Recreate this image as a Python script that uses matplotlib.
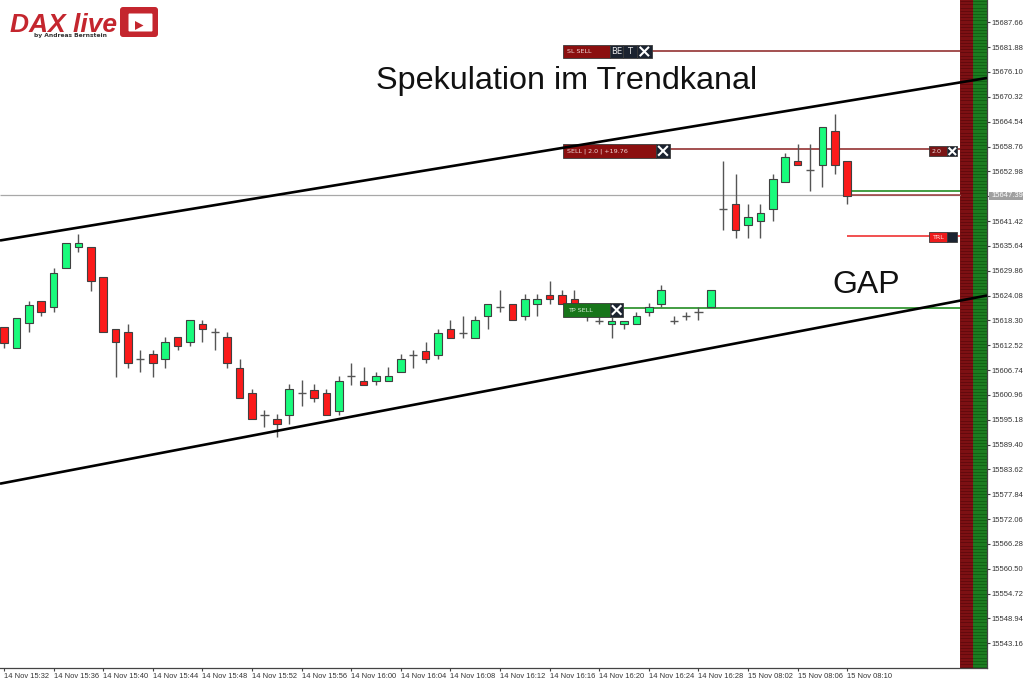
import numpy as np
import matplotlib
matplotlib.use("Agg")
import matplotlib.pyplot as plt
from matplotlib.patches import Rectangle, FancyBboxPatch, Polygon

# candles, one minute each (gap after the last 16:29 candle)
opens = [15616.8, 15611.8, 15617.8, 15622.8, 15621.4, 15630.4, 15635.3, 15635.3, 15628.4, 15616.3,
         15615.5, 15609.3, 15610.4, 15609.3, 15614.4, 15613.3, 15617.4, 15615.5, 15614.4, 15607.3,
         15601.3, 15596.3, 15595.4, 15596.3, 15601.4, 15602.2, 15601.3, 15597.3, 15605.3, 15604.3,
         15604.3, 15604.3, 15606.3, 15610.3, 15611.2, 15610.3, 15616.3, 15615.4, 15614.3, 15619.4,
         15621.4, 15622.2, 15619.4, 15622.2, 15624.2, 15624.2, 15623.3, 15621.2, 15618.2, 15617.4,
         15617.4, 15617.4, 15620.3, 15622.2, 15618.2, 15619.4, 15620.3, 15621.3, 15644.3, 15645.3,
         15640.4, 15641.4, 15644.3, 15650.4, 15655.3, 15653.3, 15654.4, 15662.3, 15655.3]
highs = [15616.8, 15618.8, 15622.9, 15622.8, 15630.4, 15636.3, 15638.4, 15635.3, 15628.4, 15616.3,
         15617.5, 15611.4, 15611.4, 15614.5, 15614.4, 15618.3, 15618.4, 15616.5, 15615.5, 15609.3,
         15602.4, 15597.5, 15596.4, 15603.4, 15604.4, 15603.4, 15602.3, 15605.3, 15608.4, 15607.4,
         15606.3, 15607.4, 15610.4, 15611.4, 15613.2, 15616.3, 15618.3, 15619.4, 15619.4, 15622.2,
         15625.4, 15622.2, 15624.4, 15624.4, 15627.4, 15625.4, 15625.4, 15621.9, 15619.1, 15619.1,
         15618.2, 15620.3, 15622.3, 15626.5, 15619.3, 15620.3, 15621.3, 15625.3, 15655.3, 15652.4,
         15645.4, 15645.4, 15652.4, 15657.3, 15659.4, 15659.4, 15663.4, 15666.3, 15655.3]
lows = [15611.8, 15611.8, 15615.7, 15619.3, 15620.3, 15630.4, 15634.3, 15625.2, 15615.5, 15605.2,
        15607.3, 15606.3, 15605.2, 15607.3, 15611.3, 15612.4, 15613.2, 15611.3, 15607.3, 15600.3,
        15595.4, 15593.4, 15591.2, 15594.3, 15598.4, 15599.3, 15596.3, 15596.3, 15603.3, 15603.3,
        15603.3, 15604.3, 15606.3, 15607.3, 15608.3, 15609.3, 15614.3, 15614.3, 15614.3, 15616.3,
        15620.3, 15618.3, 15618.3, 15619.4, 15622.2, 15622.2, 15621.3, 15618.2, 15617.4, 15614.3,
        15616.2, 15617.4, 15619.4, 15621.3, 15617.4, 15618.3, 15618.3, 15621.3, 15639.4, 15637.4,
        15637.4, 15637.4, 15641.5, 15650.4, 15654.4, 15648.4, 15649.3, 15652.4, 15645.3]
closes = [15613.0, 15618.8, 15621.9, 15620.3, 15629.3, 15636.3, 15636.3, 15627.4, 15615.5, 15613.3,
          15608.4, 15609.3, 15608.4, 15613.3, 15612.4, 15618.3, 15616.3, 15615.5, 15608.4, 15600.3,
          15595.4, 15596.3, 15594.3, 15602.3, 15601.4, 15600.3, 15596.3, 15604.3, 15605.3, 15603.3,
          15605.3, 15605.3, 15609.3, 15610.3, 15609.3, 15615.3, 15614.3, 15615.4, 15618.3, 15622.2,
          15621.4, 15618.3, 15623.3, 15623.3, 15623.3, 15622.2, 15621.3, 15619.9, 15618.2, 15618.2,
          15618.2, 15619.4, 15621.3, 15625.4, 15618.2, 15619.4, 15620.3, 15625.3, 15644.3, 15639.4,
          15642.3, 15643.4, 15651.3, 15656.3, 15654.4, 15653.3, 15663.4, 15654.4, 15647.3]

# axis labels
x_labels = ["14 Nov 15:32", "14 Nov 15:36", "14 Nov 15:40", "14 Nov 15:44", "14 Nov 15:48",
            "14 Nov 15:52", "14 Nov 15:56", "14 Nov 16:00", "14 Nov 16:04", "14 Nov 16:08",
            "14 Nov 16:12", "14 Nov 16:16", "14 Nov 16:20", "14 Nov 16:24", "14 Nov 16:28",
            "15 Nov 08:02", "15 Nov 08:06", "15 Nov 08:10"]
y_ticks = [15543.16, 15548.94, 15554.72, 15560.50, 15566.28, 15572.06, 15577.84, 15583.62, 15589.40,
           15595.18, 15600.96, 15606.74, 15612.52, 15618.30, 15624.08, 15629.86, 15635.64, 15641.42,
           15647.20, 15652.98, 15658.76, 15664.54, 15670.32, 15676.10, 15681.88, 15687.66]

# price levels
current_price = 15647.39
sl_level = 15681.05
sell_level = 15658.1
be_level = 15648.52
trl_level = 15638.0
tp_level = 15621.1

# trend channel, price at the left and right end
upper_channel = [15636.89, 15674.7]
lower_channel = [15580.3, 15624.09]

FONT = "Liberation Sans"
X_MIN, X_MAX = -0.3226, 79.27
PANEL_LEFT, PANEL_MID = 77.1, 78.18

fig = plt.figure(figsize=(10.3, 6.82), dpi=100)
ax = fig.add_axes([0, 14 / 682, 987 / 1030, 668 / 682])
ax.set_xlim(X_MIN, X_MAX)
ax.set_ylim(15537.41, 15692.85)

# overlay in pixels for logo, trade labels and texts
ov = fig.add_axes([0, 0, 1, 1])
ov.set_xlim(0, 1030)
ov.set_ylim(682, 0)
ov.axis("off")
ov.patch.set_alpha(0)

# depth panel on the right
ax.axvspan(PANEL_LEFT, PANEL_MID, color="#7d1013", lw=0, zorder=1)
ax.axvspan(PANEL_MID, X_MAX, color="#1c7c20", lw=0, zorder=1)
stripes = np.arange(15537.6, 15693, 0.745)
ax.hlines(stripes, PANEL_LEFT, PANEL_MID, color="#5e0a0d", lw=0.6, zorder=1.1)
ax.hlines(stripes, PANEL_MID, X_MAX, color="#0f5f14", lw=0.6, zorder=1.1)

# price and trade lines
ax.hlines(current_price, X_MIN, PANEL_LEFT, color="#a8a8a8", lw=0.9, zorder=1.5)
ax.hlines(sl_level, 52.2, PANEL_LEFT, color="#8a2020", lw=1.1, zorder=1.6)
ax.hlines(sell_level, 53.7, PANEL_LEFT, color="#8a2020", lw=1.1, zorder=1.6)
ax.hlines(be_level, 68.3, PANEL_LEFT, color="#0f820f", lw=1.1, zorder=1.6)
ax.hlines(current_price, 68.3, PANEL_LEFT, color="#9a3a3a", lw=1.1, zorder=1.6)
ax.hlines(trl_level, 68.0, PANEL_LEFT, color="#ee2020", lw=1.1, zorder=1.6)
ax.hlines(tp_level, 50.0, PANEL_LEFT, color="#0f820f", lw=1.1, zorder=1.6)

# candles
idx = np.arange(len(opens))
o = np.array(opens)
c = np.array(closes)
is_doji = o == c
colors = ["#19fb7c" if c[i] > o[i] else "#fb1a1a" for i in idx]
ax.vlines(idx, lows, highs, color="#555555", lw=1.0, zorder=2)
ax.bar(idx[~is_doji], np.abs(c - o)[~is_doji], bottom=np.minimum(o, c)[~is_doji], width=0.62,
       color=np.array(colors)[~is_doji], edgecolor="#404040", linewidth=0.8, zorder=3)
ax.hlines(o[is_doji], idx[is_doji] - 0.33, idx[is_doji] + 0.33, color="#555555", lw=1.0, zorder=2)

# axes
for side in ["top", "left"]:
    ax.spines[side].set_visible(False)
for side in ["right", "bottom"]:
    ax.spines[side].set_color("#444444")
    ax.spines[side].set_linewidth(0.9)
ax.yaxis.tick_right()
ax.set_yticks(y_ticks)
# the 15647.20 label sits under the current price box
ax.set_yticklabels(["" if t == 15647.20 else f"{t:.2f}" for t in y_ticks], fontname=FONT, fontsize=5.5, color="#333333")
tick_pos = [i * 4 for i in range(15)] + [60, 64, 68]
ax.set_xticks(tick_pos)
ax.set_xticklabels(x_labels, fontname=FONT, fontsize=5.4, color="#333333", ha="left")
ax.tick_params(axis="both", length=2.5, width=0.8, color="#444444", pad=0.8)
ov.text(991, -1, "15693.44", fontname=FONT, fontsize=5.5, color="#333333", va="center")

# current price label on the axis
ov.add_patch(Rectangle((989, 191.7), 33.7, 8.4, color="#a0a0a0", lw=0))
ov.text(991, 195.8, "15647.39", fontname=FONT, fontsize=5.5, color="white", va="center")


def box(x0, x1, y0, y1, color):
    ov.add_patch(Rectangle((x0, y0), x1 - x0, y1 - y0, facecolor=color, edgecolor="#3a3a3a", lw=0.6))


def cross(x0, x1, y0, y1):
    cx, cy = (x0 + x1) / 2, (y0 + y1) / 2
    r = min(x1 - x0, y1 - y0) * 0.3
    ov.plot([cx - r, cx + r], [cy - r, cy + r], color="white", lw=1.5)
    ov.plot([cx - r, cx + r], [cy + r, cy - r], color="white", lw=1.5)


def small_text(x, y, s, color="#f0d8d8", size=4.6):
    ov.text(x, y, s, fontname="DejaVu Sans", fontsize=size, color=color, va="center")


DARK = "#1b2330"
RED = "#8b0f0f"

# SL label
box(563.3, 610, 45, 58, RED)
box(610, 623.3, 45, 58, DARK)
box(623.3, 637, 45, 58, DARK)
box(637, 651.7, 45, 58, DARK)
small_text(567, 51.5, "SL SELL")
small_text(611.5, 51.5, "BE", "#e8e8e8", 6)
small_text(627.5, 51.5, "T", "#e8e8e8", 6)
cross(637, 651.7, 45, 58)

# SELL label
box(563.3, 656, 144, 157.7, RED)
box(656, 670, 144, 157.7, DARK)
small_text(567, 151, "SELL | 2.0 | +19.76")
cross(656, 670, 144, 157.7)

# volume label at the right end
box(928.7, 947.3, 146.3, 156.3, "#7a1515")
box(947.3, 957.3, 146.3, 156.3, DARK)
small_text(932, 151.5, "2.0")
cross(947.3, 957.3, 146.3, 156.3)

# trailing label
box(928.7, 947.3, 232.3, 242.3, "#ee1c1c")
box(947.3, 957.3, 232.3, 242.3, DARK)
small_text(932, 237.5, "TRL", "#ffe0e0")

# TP label
box(563.3, 610, 303.3, 316.7, "#17751a")
box(610, 623.3, 303.3, 316.7, DARK)
small_text(568, 310, "TP SELL", "#d8f0d8")
cross(610, 623.3, 303.3, 316.7)

# trend channel goes over the labels
ov.plot([X_MIN, X_MAX], upper_channel, color="black", lw=1.9, transform=ax.transData, solid_capstyle="butt")
ov.plot([X_MIN, X_MAX], lower_channel, color="black", lw=1.9, transform=ax.transData, solid_capstyle="butt")

# big texts
ov.text(376, 81, "Spekulation im Trendkanal", fontname=FONT, fontsize=23.3, color="#111111", va="center")
ov.text(832, 285, "GAP", fontname=FONT, fontsize=23, color="#111111", va="center")

# logo
LOGO = "#c4262e"
ov.text(10, 32, "DAX live", fontname=FONT, fontsize=19, fontweight="bold", fontstyle="italic",
        color=LOGO, va="baseline")
ov.text(34, 36, "by Andreas Bernstein", fontname="DejaVu Sans", fontsize=4.3, fontweight="bold",
        color="#333333", va="center")
ov.add_patch(FancyBboxPatch((122, 9), 34, 26, boxstyle="round,pad=2,rounding_size=3", facecolor=LOGO, lw=0))
ov.add_patch(FancyBboxPatch((129, 14), 23, 17, boxstyle="round,pad=0.5,rounding_size=1", facecolor="white", lw=0))
ov.add_patch(Polygon([(135, 21), (143.5, 25.5), (135, 30)], closed=True, facecolor=LOGO, lw=0))

ov.set_xlim(0, 1030)
ov.set_ylim(682, 0)
ax.set_xlim(X_MIN, X_MAX)
ax.set_ylim(15537.41, 15692.85)

fig.savefig("out.png", dpi=100)
